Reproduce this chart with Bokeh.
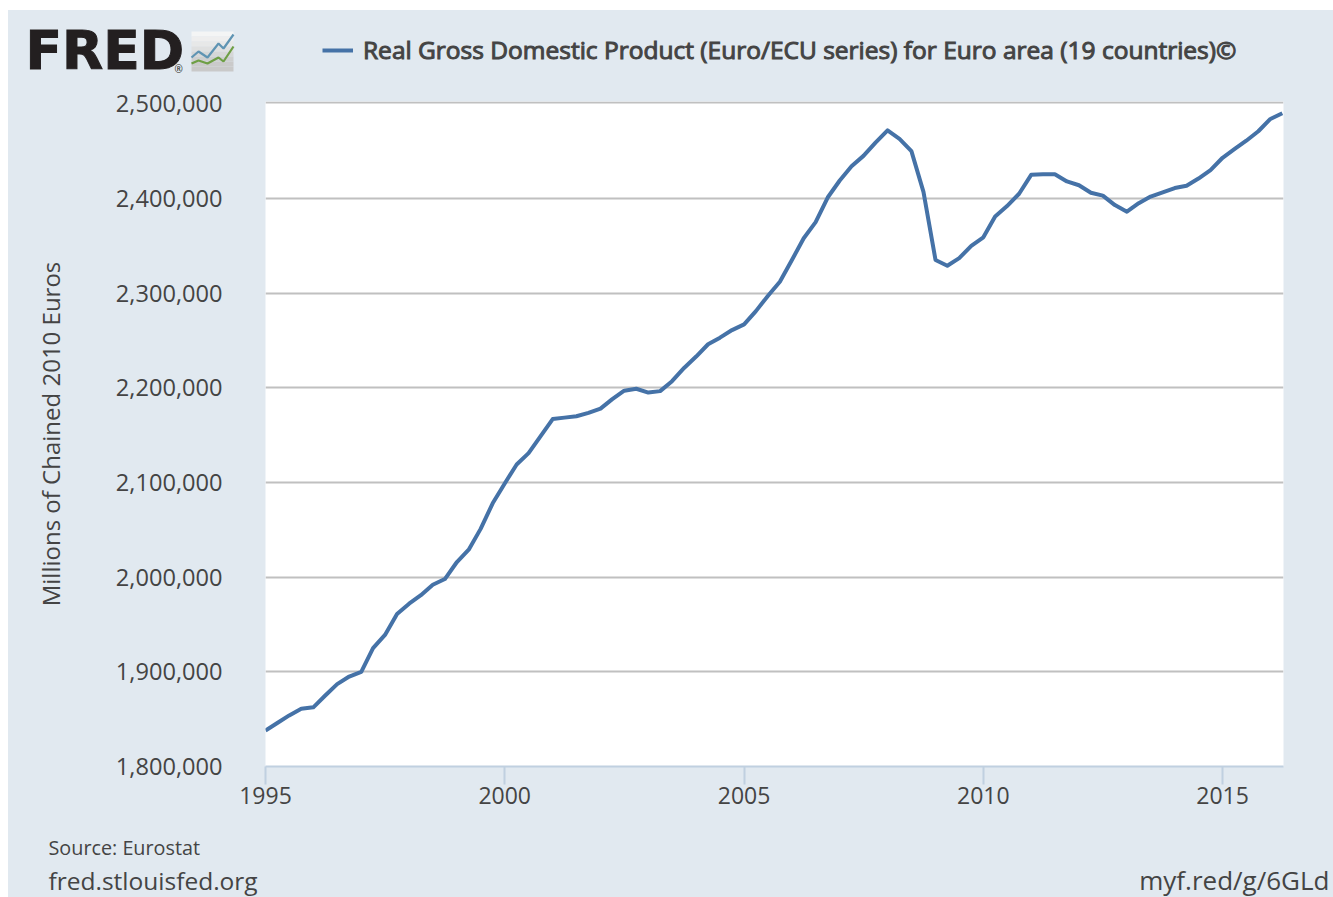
from datetime import datetime
import pandas as pd
from bokeh.plotting import figure
from bokeh.layouts import column, row
from bokeh.embed import file_html
from bokeh.resources import INLINE
from bokeh.core.properties import value
from bokeh.models import (Range1d, FixedTicker, NumeralTickFormatter, DatetimeTickFormatter,
                          Legend, LegendItem, Span)

# ---- data (quarterly, thousands of millions of chained 2010 euros)
gdp_thousands = [
    1838, 1846, 1854, 1861,
    1862.5, 1875, 1887, 1895,
    1900, 1925, 1939, 1961,
    1972, 1981, 1992, 1998,
    2016, 2029, 2051, 2078,
    2099, 2119, 2131, 2149,
    2167, 2168.5, 2170, 2173.5,
    2178, 2188, 2197, 2199,
    2195, 2196.5, 2207, 2221,
    2233, 2246, 2253, 2261,
    2267, 2281, 2297, 2312,
    2335, 2358, 2375, 2401,
    2419, 2434, 2445, 2459,
    2472, 2463, 2450, 2407,
    2335, 2329, 2337, 2350,
    2359, 2381, 2392, 2405,
    2425, 2425.5, 2425.5, 2418,
    2414, 2406, 2403, 2393,
    2386, 2395, 2402, 2406.5,
    2411, 2413.5, 2421, 2430,
    2443, 2452, 2461, 2471,
    2484, 2490,
]
start_quarter = "1995-01-01"
x_tick_years = [1995, 2000, 2005, 2010, 2015]
y_ticks = [1800000, 1900000, 2000000, 2100000, 2200000, 2300000, 2400000, 2500000]
grid_ticks = [1900000, 2000000, 2100000, 2200000, 2300000, 2400000]
series_name = "Real Gross Domestic Product (Euro/ECU series) for Euro area (19 countries)©"
y_title = "Millions of Chained 2010 Euros"
source_text = "Source: Eurostat"
site_text = "fred.stlouisfed.org"
link_text = "myf.red/g/6GLd"

BG = "#e1e9f0"
TXT = "#444444"
LINE = "#4572a7"
FONT = "Open Sans"

dates = pd.date_range(start_quarter, periods=len(gdp_thousands), freq="QS")
gdp = [v * 1000 for v in gdp_thousands]

# page geometry: canvas strips stacked with no gap
LEFT, RIGHT = 8, 1333
TOP, HEAD_END, MAIN_END, BOTTOM = 10, 85, 810, 897
FR_L, FR_R, FR_T, FR_B = 265, 1283, 101.5, 766
W = RIGHT - LEFT
CSS = {"background-color": BG}


def strip(y_top, y_bottom):
    """A full-bleed figure whose data units are page pixels."""
    f = figure(width=W, height=y_bottom - y_top, output_backend="svg", toolbar_location=None,
               x_range=Range1d(LEFT, RIGHT), y_range=Range1d(y_bottom, y_top),
               min_border=0, background_fill_color=None, border_fill_color=None,
               outline_line_color=None, margin=0, styles=CSS)
    f.axis.visible = False
    f.grid.visible = False
    return f


def put(f, x, y, text, size_px, align="left", color=TXT, font=FONT, style="normal", **kw):
    # y is the wanted baseline; the renderer sets alphabetic text about 0.39 em lower
    f.text([x], [y - 0.39 * size_px], text=[text], text_font=value(font), text_font_size=f"{size_px}px",
           text_color=color, text_font_style=style, text_align=align, text_baseline="alphabetic", **kw)


# ---- main chart
y0, per_px = 1800000, 100000 / 94.6
p = figure(width=W, height=MAIN_END - HEAD_END, output_backend="svg", toolbar_location=None,
           x_axis_type="datetime",
           x_range=Range1d(datetime(1995, 1, 1), datetime(2016, 4, 10)),
           y_range=Range1d(y0, y0 + (FR_B - FR_T) * per_px),
           min_border_left=FR_L - LEFT, min_border_right=RIGHT - FR_R,
           min_border_top=int(FR_T - HEAD_END), min_border_bottom=MAIN_END - FR_B,
           background_fill_color="white", border_fill_color=None,
           outline_line_color=None, margin=0, styles=CSS)
p.line(dates, gdp, line_color=LINE, line_width=4, line_join="round")

xa = p.xaxis[0]
xa.ticker = FixedTicker(ticks=[datetime(y, 1, 1).timestamp() * 1000 for y in x_tick_years])
xa.formatter = DatetimeTickFormatter(years="%Y", months="%Y", days="%Y", hours="%Y")
xa.axis_line_color = "#c0d0e0"
xa.axis_line_width = 2
xa.major_tick_line_color = "#c0d0e0"
xa.major_tick_line_width = 2
xa.major_tick_in = 0
xa.major_tick_out = 18
xa.minor_tick_line_color = None
xa.major_label_standoff = 2
xa.major_label_text_font = FONT
xa.major_label_text_font_size = "23px"
xa.major_label_text_color = TXT

ya = p.yaxis[0]
ya.ticker = FixedTicker(ticks=y_ticks)
ya.formatter = NumeralTickFormatter(format="0,0")
ya.axis_line_color = None
ya.major_tick_line_color = None
ya.major_tick_out = 0
ya.major_tick_in = 0
ya.minor_tick_line_color = None
ya.major_label_standoff = 43
ya.major_label_text_font = FONT
ya.major_label_text_font_size = "23.6px"
ya.major_label_text_color = TXT
ya.axis_label = y_title
ya.axis_label_text_font = FONT
ya.axis_label_text_font_size = "24px"
ya.axis_label_text_font_style = "normal"
ya.axis_label_text_color = TXT
ya.axis_label_standoff = 46

p.xgrid.visible = False
p.ygrid[0].ticker = FixedTicker(ticks=grid_ticks)
p.ygrid[0].grid_line_color = "#c0c0c0"
p.ygrid[0].grid_line_width = 2
p.add_layout(Span(location=y0 + (FR_B - 102.5) * per_px, dimension="width",
                  line_color="#c0c0c0", line_width=2))

# ---- header: logo and legend
h = strip(TOP, HEAD_END)
put(h, 25, 71, "FRED", 53.5, color="#231f20", font="DejaVu Sans", style="bold",
    text_outline_color="#231f20")
put(h, 174, 72, "®", 10, color="#231f20")
stripes = ["#f4f5f5", "#eeeeee", "#e7e8e8", "#dfe0e0", "#d6d7d7", "#cecfcf", "#cacaca", "#c9c9c9"]
tops = [31 + 5 * i for i in range(len(stripes))]
h.quad(left=191, right=233, top=tops, bottom=[t + 5 for t in tops], fill_color=stripes, line_color=None)
h.line([191, 198, 207, 218, 223, 233], [57, 51, 57, 43, 48, 34], line_color="#5f94b3", line_width=2.2)
h.line([191, 198, 207, 218, 223, 233], [63, 60, 63, 57, 61, 46], line_color="#6e9f45", line_width=2.2)

sample = h.line([0, 1], [0, 0], line_color=LINE, line_width=4)
h.add_layout(Legend(items=[LegendItem(label=series_name, renderers=[sample])],
                    location=(322 - LEFT, HEAD_END - 66), border_line_color=None, background_fill_alpha=0,
                    padding=0, margin=0, glyph_width=31, glyph_height=24, label_standoff=10,
                    label_text_font=FONT, label_text_font_size="24.5px", label_text_color=TXT,
                    label_text_outline_color=TXT, label_height=28), "center")

# ---- footer
f = strip(MAIN_END, BOTTOM)
put(f, 48, 855, source_text, 19.8)
put(f, 48, 890, site_text, 24.5)
put(f, 1329, 890, link_text, 26, align="right")

layout = column(row(h, margin=0), p, row(f, margin=0), spacing=0, margin=(TOP, 0, 0, LEFT))
open("out.html", "w").write(file_html(layout, INLINE))
